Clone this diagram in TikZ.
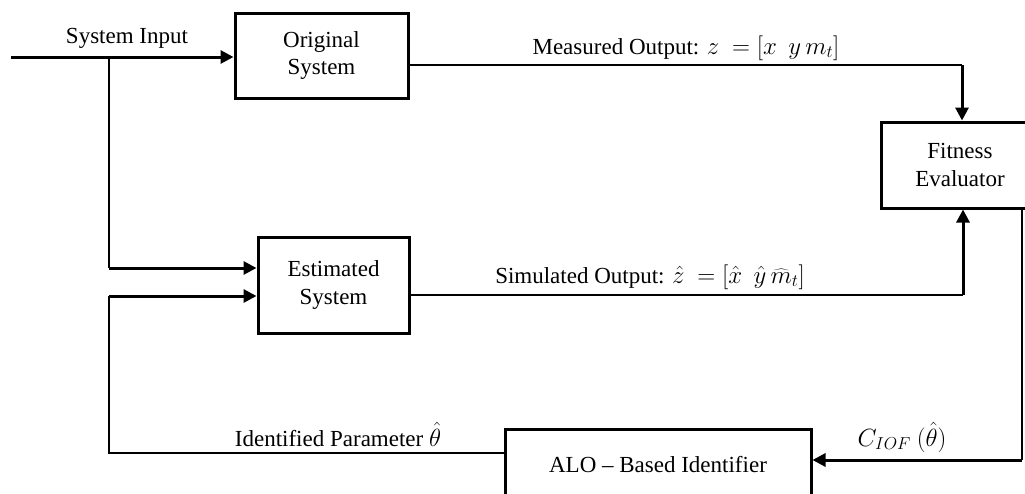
\documentclass[tikz,border=0pt]{standalone}
\usepackage{fontspec}
\setmainfont{Liberation Serif}
\usetikzlibrary{arrows.meta}
\begin{document}
\begin{tikzpicture}[x=1pt,y=-1pt,
  box/.style={draw, line width=3pt, align=center, inner sep=0pt, font=\fontsize{23}{27.5}\selectfont},
  lbl/.style={inner sep=0pt, anchor=base, font=\fontsize{23}{27.5}\selectfont},
  wire/.style={line width=1.5pt},
  bold/.style={line width=3pt},
  tip/.style={-{Triangle[length=13pt,width=13pt]}}
]
\useasboundingbox (0,0) rectangle (1025,493);
\clip (0,0) rectangle (1025,493);
% blocks
\node[box, minimum width=173pt, minimum height=85pt] (orig) at (321.5,55.5) {Original\\System};
\node[box, minimum width=151pt, minimum height=96pt] (est) at (333.5,285) {Estimated\\System};
\node[box, minimum width=158pt, minimum height=86pt] (fit) at (960,165) {Fitness\\Evaluator};
\node[box, minimum width=306pt, minimum height=72pt] (alo) at (658,465) {ALO -- Based Identifier};
% junction points
\coordinate (src) at (11,57);
\coordinate (br1) at (109,57);
\coordinate (br2) at (109,268);
\coordinate (fb1) at (109,296);
\coordinate (fb2) at (109,453);
\coordinate (m1) at (962,65);
\coordinate (s1) at (963,295);
\coordinate (c1) at (1022,208);
\coordinate (c2) at (1022,460);
% connectors
\draw[bold,tip] (src) -- (src -| orig.west);
\draw[wire] (br1) -- (br2);
\draw[bold,tip] (br2) -- (br2 -| est.west);
\draw[wire] (alo.west |- fb2) -- (fb2) -- (fb1);
\draw[bold,tip] (fb1) -- (fb1 -| est.west);
\draw[wire] (orig.east |- m1) -- (m1);
\draw[bold,tip] (m1) -- (m1 |- fit.north);
\draw[wire] (est.east |- s1) -- (s1);
\draw[bold,tip] (s1) -- (s1 |- fit.south);
\draw[wire] (c1) -- (c2);
\draw[bold,tip] (c2) -- (c2 -| alo.east);
% labels
\node[lbl] (lin) at (127,43) {System Input};
\node[lbl] (lmo) at (686,54) {Measured Output: $z\ =[x\ \ y\,m_t]$};
\node[lbl] (lso) at (650,283) {Simulated Output: $\hat z\ =[\hat x\ \ \hat y\,\widehat{m}_t]$};
\node[lbl] (lid) at (338,446) {Identified Parameter $\hat\theta$};
\node[lbl] (lc) at (902,446) {$C_{IOF}\ \big(\hat\theta\big)$};
\end{tikzpicture}
\end{document}
